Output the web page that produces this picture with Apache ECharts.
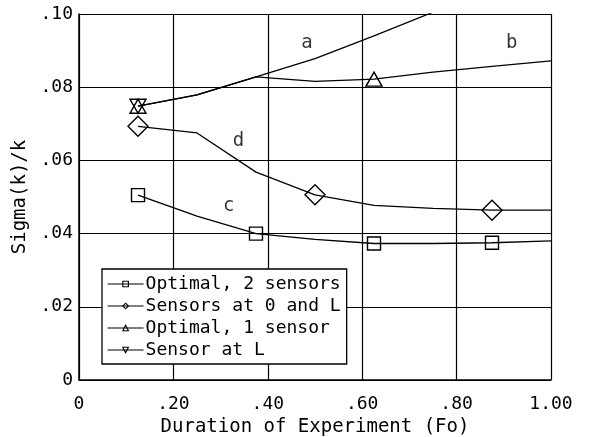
<!DOCTYPE html>
<html>
<head>
<meta charset="utf-8">
<script src="https://cdn.jsdelivr.net/npm/echarts@6/dist/echarts.min.js"></script>
<style>
  html, body { margin: 0; padding: 0; background: #fff; }
  #chart { width: 591px; height: 437px; }
</style>
</head>
<body>
<div id="chart"></div>
<script>
// Duration of experiment (Fourier number) at which each curve is tabulated
const fo = [0.125, 0.25, 0.375, 0.5, 0.625, 0.75, 0.875, 1.0];

// Sigma(k)/k for each sensor arrangement
const optimalTwo  = [0.0505, 0.0448, 0.0400, 0.0384, 0.0373, 0.0373, 0.0375, 0.0380]; // curve c
const sensorsAt0L = [0.0693, 0.0675, 0.0568, 0.0506, 0.0477, 0.0469, 0.0464, 0.0464]; // curve d
const optimalOne  = [0.0748, 0.0779, 0.0828, 0.0816, 0.0822, 0.0841, 0.0857, 0.0872]; // curve b
const sensorAtL   = [0.0748, 0.0779, 0.0828, 0.0878, 0.0940, 0.1005];                 // curve a

// Which tabulated points carry a marker on each curve
const markedTwo  = [0, 2, 4, 6];
const marked0L   = [0, 3, 6];
const markedOne  = [0, 4];
const markedAtL  = [0];

const seriesNames = ['Optimal, 2 sensors', 'Sensors at 0 and L', 'Optimal, 1 sensor', 'Sensor at L'];

// Curve tags written inside the plot
const tagText = ['a', 'b', 'c', 'd'];
const tagFo   = [0.483, 0.917, 0.317, 0.338];
const tagSig  = [0.0920, 0.0920, 0.0475, 0.0654];

// Tick labels
const xTickLabels = ['0', '.20', '.40', '.60', '.80', '1.00'];
const yTickLabels = ['0', '.02', '.04', '.06', '.08', '.10'];

const FONT = 'DejaVu Sans Mono';
const INK = '#000';

function points(values, marked) {
  return values.map(function (v, i) {
    return marked.indexOf(i) >= 0 ? [fo[i], v] : { value: [fo[i], v], symbol: 'none' };
  });
}

function curve(name, values, marked, symbol, size, rotate) {
  return {
    name: name,
    type: 'line',
    data: points(values, marked),
    symbol: symbol,
    symbolSize: size,
    symbolRotate: rotate || 0,
    showSymbol: true,
    clip: true,
    lineStyle: { color: INK, width: 1.3 },
    itemStyle: { color: 'rgba(255,255,255,0)', borderColor: INK, borderWidth: 1.4 },
    emphasis: { disabled: true },
    animation: false
  };
}

const chart = echarts.init(document.getElementById('chart'), null, { renderer: 'canvas' });

chart.setOption({
  backgroundColor: '#fff',
  animation: false,
  textStyle: { fontFamily: FONT, color: INK },
  grid: { left: 79, right: 40, top: 14, bottom: 57, containLabel: false, outerBoundsMode: 'none' },
  xAxis: {
    type: 'value',
    min: 0, max: 1, interval: 0.2,
    name: 'Duration of Experiment (Fo)',
    nameLocation: 'middle',
    nameGap: 34,
    nameTextStyle: { fontFamily: FONT, fontSize: 19, color: INK },
    axisLine: { show: true, onZero: false, lineStyle: { color: INK, width: 1.5 } },
    axisTick: { show: false },
    splitLine: { show: true, lineStyle: { color: INK, width: 1.2 } },
    axisLabel: {
      margin: 15,
      fontFamily: FONT, fontSize: 18, color: INK,
      formatter: function (v) { return xTickLabels[Math.round(v / 0.2)]; }
    }
  },
  yAxis: {
    type: 'value',
    min: 0, max: 0.1, interval: 0.02,
    name: 'Sigma(k)/k',
    nameLocation: 'middle',
    nameGap: 47,
    nameTextStyle: { fontFamily: FONT, fontSize: 19, color: INK },
    axisLine: { show: true, onZero: false, lineStyle: { color: INK, width: 1.5 } },
    axisTick: { show: false },
    splitLine: { show: true, lineStyle: { color: INK, width: 1.2 } },
    axisLabel: {
      margin: 6,
      padding: [6, 0, 0, 0],
      fontFamily: FONT, fontSize: 18, color: INK,
      formatter: function (v) { return yTickLabels[Math.round(v / 0.02)]; }
    }
  },
  legend: {
    data: seriesNames,
    orient: 'vertical',
    left: 102,
    top: 269,
    padding: [6, 6, 5, 5],
    itemWidth: 36,
    itemHeight: 7,
    itemGap: 4,
    backgroundColor: '#fff',
    borderColor: INK,
    borderWidth: 1.3,
    borderRadius: 0,
    selectedMode: false,
    textStyle: { fontFamily: FONT, fontSize: 18, lineHeight: 18, color: INK, padding: [0, 0, 0, -3] },
    itemStyle: { borderWidth: 1.1 },
    lineStyle: { width: 1.2 }
  },
  series: [
    curve(seriesNames[0], optimalTwo, markedTwo, 'rect', 13),
    curve(seriesNames[1], sensorsAt0L, marked0L, 'diamond', 20),
    curve(seriesNames[2], optimalOne, markedOne, 'triangle', [16, 14]),
    curve(seriesNames[3], sensorAtL, markedAtL, 'triangle', [16, 14], 180),
    {
      name: 'tags',
      type: 'scatter',
      data: tagText.map(function (t, i) { return { value: [tagFo[i], tagSig[i]], tag: t }; }),
      symbolSize: 1,
      itemStyle: { color: 'rgba(0,0,0,0)' },
      silent: true,
      label: {
        show: true,
        position: 'inside',
        fontFamily: FONT,
        fontSize: 19,
        color: INK,
        formatter: function (p) { return p.data.tag; }
      },
      emphasis: { disabled: true }
    }
  ]
});
</script>
</body>
</html>
